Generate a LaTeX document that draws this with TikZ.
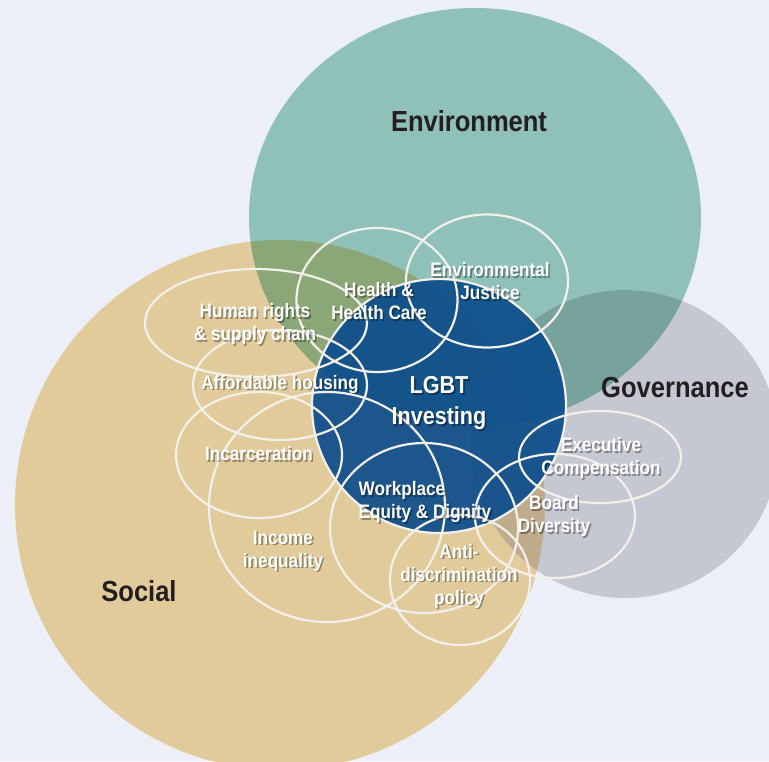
\documentclass[tikz,border=0pt]{standalone}
\usepackage{fontspec}
\setmainfont{Liberation Sans}
\newfontfamily\narrowsans[FakeStretch=0.88]{Liberation Sans}
\usetikzlibrary{shapes.geometric}

\definecolor{pagebg}{HTML}{ECEFF8}
\definecolor{envfill}{HTML}{8FC1B9}
\definecolor{socfill}{HTML}{E2CB9B}
\definecolor{govfill}{HTML}{C5C8D1}
\definecolor{envsoc}{HTML}{8BA677}
\definecolor{envgov}{HTML}{78A39C}
\definecolor{socgov}{HTML}{BEAC8C}
\definecolor{allthree}{HTML}{6F8E78}
\definecolor{lgbtblue}{HTML}{0D4E8C}
\definecolor{ringwhite}{HTML}{F2F0EA}
\definecolor{inkdark}{HTML}{231F20}

% the three big sets
\def\envset{(475,217) ellipse [x radius=226, y radius=209]}
\def\socset{(280,505) circle [radius=265]}
\def\govset{(625,444) circle [radius=154]}

\begin{document}
\begin{tikzpicture}[x=1pt, y=-1pt,
    ring/.style={ellipse, draw=ringwhite, line width=2.2pt, inner sep=0pt},
    setlabel/.style={font=\narrowsans\bfseries\fontsize{29}{33}\selectfont, text=inkdark},
    topic/.style={font=\narrowsans\bfseries\fontsize{19.5}{23}\selectfont, text=white},
    topicshadow/.style={topic, text=black, text opacity=0.35, xshift=1.6pt, yshift=-1.8pt},
    bigtopic/.style={font=\narrowsans\bfseries\fontsize{24.5}{31}\selectfont, text=white, align=center}]

    \useasboundingbox (0,0) rectangle (769,761);
    \clip (0,0) rectangle (769,761);
    \fill[pagebg] (0,0) rectangle (769,761);

    % Sets
    \fill[socfill] \socset;
    \fill[envfill] \envset;
    \fill[govfill] \govset;
    \begin{scope}
        \clip \socset;
        \fill[envsoc] \envset;
    \end{scope}
    \begin{scope}
        \clip \govset;
        \fill[envgov] \envset;
    \end{scope}
    \begin{scope}
        \clip \govset;
        \fill[socgov] \socset;
    \end{scope}
    \begin{scope}
        \clip \govset;
        \clip \socset;
        \fill[allthree] \envset;
    \end{scope}

    \node[setlabel] (envname) at (469,121) {Environment};
    \node[setlabel] (govname) at (675,388) {Governance};
    \node[setlabel] (socname) at (139,591) {Social};

    % LGBT investing
    \node[circle, fill=lgbtblue, fill opacity=0.93, draw=ringwhite, line width=2.2pt,
          minimum size=254, inner sep=0pt] (lgbtring) at (439,406) {};

    % Topics
    \node[ring, minimum width=222, minimum height=108] (humanring) at (256,323) {};
    \node[ring, minimum width=161, minimum height=144] (healthring) at (377,300) {};
    \node[ring, minimum width=162, minimum height=133] (justicering) at (487,281) {};
    \node[ring, minimum width=174, minimum height=110] (housingring) at (280,385) {};
    \node[ring, minimum width=166, minimum height=126] (prisonring) at (259,455) {};
    \node[ring, minimum width=236, minimum height=230] (incomering) at (327,507) {};
    \node[ring, minimum width=188, minimum height=170] (workring) at (424,528) {};
    \node[ring, minimum width=140, minimum height=130] (antiring) at (460,580) {};
    \node[ring, minimum width=160, minimum height=124] (boardring) at (555,516) {};
    \node[ring, minimum width=162, minimum height=92] (execring) at (600,457) {};

    \node[bigtopic, text=black, text opacity=0.35, xshift=1.8pt, yshift=-2pt] at (439,403) {LGBT\\Investing};
    \node[bigtopic] (lgbtname) at (439,403) {LGBT\\Investing};

    \foreach \nm/\at/\al/\txt in {
        humantxt/{(255,324)}/center/{Human rights\\\& supply chain},
        healthtxt/{(379,301)}/center/{Health \&\\Health Care},
        justicetxt/{(490,281)}/center/{Environmental\\Justice},
        housingtxt/{(280,384)}/center/{Affordable housing},
        prisontxt/{(259,454)}/center/{Incarceration},
        incometxt/{(283,551)}/center/{Income\\inequality},
        worktxt/{(425,502)}/left/{Workplace\\Equity \& Dignity},
        antitxt/{(459,576)}/center/{Anti-\\discrimination\\policy},
        boardtxt/{(554,516)}/center/{Board\\Diversity},
        exectxt/{(601,458)}/center/{Executive\\Compensation}} {
        \node[topicshadow, align=\al] at \at {\txt};
        \node[topic, align=\al] (\nm) at \at {\txt};
    }
\end{tikzpicture}
\end{document}
